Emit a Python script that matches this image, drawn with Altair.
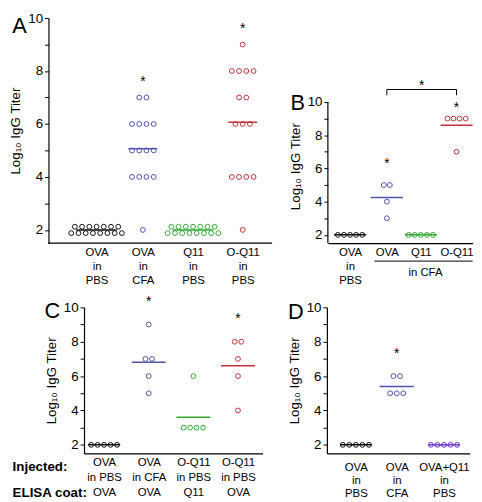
import altair as alt
import pandas as pd
import numpy as np

FONT = "Liberation Sans"
BLACK = "#111111"
BLUE = "#5151ae"
GREEN = "#35a835"
RED = "#c2303c"
PURPLE = "#6a35c8"
TITLE = "Log\u2081\u2080 IgG Titer"

# ---------------- data ----------------
A_labels = [["OVA", "in", "PBS"], ["OVA", "in", "CFA"], ["Q11", "in", "PBS"], ["O-Q11", "in", "PBS"]]
A_values = [
    [2] * 15,
    [7, 7, 6, 6, 6, 6, 5, 5, 5, 5, 4, 4, 4, 4, 2],
    [2] * 15,
    [9, 8, 8, 8, 8, 7, 7, 6, 6, 6, 4, 4, 4, 4, 2],
]
A_colors = [BLACK, BLUE, GREEN, RED]
A_stars = [None, 7.7, None, 9.7]

B_labels = [["OVA", "in", "PBS"], ["OVA"], ["Q11"], ["O-Q11"]]
B_values = [[2] * 5, [5, 5, 4, 3], [2] * 5, [9, 9, 9, 9, 7]]
B_colors = [BLACK, BLUE, GREEN, RED]
B_stars = [None, 6.45, None, 9.8]

C_labels = [["OVA", "in PBS", "OVA"], ["OVA", "in CFA", "OVA"], ["O-Q11", "in PBS", "Q11"], ["O-Q11", "in PBS", "OVA"]]
C_values = [[2] * 5, [9, 7, 7, 6, 5], [6, 3, 3, 3, 3], [8, 8, 7, 6, 4]]
C_colors = [BLACK, BLUE, GREEN, RED]
C_stars = [None, 10.5, None, 9.5]

D_labels = [["OVA", "in", "PBS"], ["OVA", "in", "CFA"], ["OVA+Q11", "in", "PBS"]]
D_values = [[2] * 5, [6, 6, 5, 5, 5], [2] * 5]
D_colors = [BLACK, BLUE, PURPLE]
D_stars = [None, 7.45, None]


def point_table(pos, values, colors, step, row_max=None, row_dy=0.12):
    rows = []
    for p, vals, c in zip(pos, values, colors):
        counts = {}
        for v in vals:
            counts[v] = counts.get(v, 0) + 1
        for v, k in counts.items():
            if row_max and k > row_max:
                lower = (k + 1) // 2
                upper = k - lower
                for n, dy in ((lower, -row_dy), (upper, row_dy)):
                    for i in range(n):
                        rows.append(dict(x=p + (i - (n - 1) / 2) * step, y=v + dy, c=c))
            else:
                for i in range(k):
                    rows.append(dict(x=p + (i - (k - 1) / 2) * step, y=v, c=c))
    return pd.DataFrame(rows)


def label_expr(xpos, labels):
    arr = "[" + ",".join("[" + ",".join("'%s'" % s for s in lab) + "]" for lab in labels) + "]"
    pos = "[" + ",".join(repr(p) for p in xpos) + "]"
    return "%s[indexof(%s, datum.value)]" % (arr, pos)


def panel(width, height, xdom, ydom, xpos, labels, values, colors, stars, step,
          halves, letter, letter_xy, lab_pad, lab_lh, row_max=None, extra=None,
          y_offset=0, x_line=None, y_line=None, title_y=None):
    xaxis = dict(values=xpos, labelExpr=label_expr(xpos, labels), ticks=False,
                 tickSize=0, labelPadding=lab_pad, labelLineHeight=lab_lh,
                 labelFontSize=11.5, labelOverlap=False, labelFlush=False,
                 labelAngle=0, title=None, grid=False, tickCount=20)
    if x_line is not None:
        xaxis["domain"] = False
    yaxis = dict(values=list(range(2, 11)), tickCount=40, format="d",
                 labelExpr="datum.value % 2 == 0 ? format(datum.value, 'd') : ''",
                 tickSize=4, labelPadding=2, labelFontSize=13.5, labelOverlap=False,
                 labelFlush=False, labelBound=False,
                 titleFontSize=13.5, titlePadding=5, title=TITLE, grid=False,
                 offset=y_offset)
    if y_line is not None:
        yaxis["domain"] = False
    if title_y is not None:
        yaxis["titleY"] = title_y
    xenc = alt.X("x:Q", scale=alt.Scale(domain=xdom, nice=False, zero=False), axis=alt.Axis(**xaxis))
    yenc = alt.Y("y:Q", scale=alt.Scale(domain=ydom, nice=False, zero=False), axis=alt.Axis(**yaxis))
    pts = point_table(xpos, values, colors, step, row_max=row_max)
    means = pd.DataFrame([dict(x=p - h, x2=p + h, y=float(np.mean(v)), c=c)
                          for p, v, c, h in zip(xpos, values, colors, halves)])
    st = pd.DataFrame([dict(x=p, y=s, t="*") for p, s in zip(xpos, stars) if s is not None])
    let = pd.DataFrame([dict(x=letter_xy[0], y=letter_xy[1], t=letter)])

    layers = [
        alt.Chart(means).mark_rule(strokeWidth=1.5).encode(
            x=xenc, x2="x2:Q", y=yenc, color=alt.Color("c:N", scale=None)),
        alt.Chart(pts).mark_point(shape="circle", filled=False, size=24, strokeWidth=1,
                                  opacity=1).encode(
            x=xenc, y=yenc, color=alt.Color("c:N", scale=None)),
        alt.Chart(st).mark_text(fontSize=14, baseline="middle", dy=3, color="black").encode(
            x=xenc, y=yenc, text="t:N"),
        alt.Chart(let).mark_text(fontSize=22, baseline="middle", align="center",
                                 color="black").encode(x=xenc, y=yenc, text="t:N"),
    ]
    if x_line is not None:
        xl = pd.DataFrame([dict(x=x_line[0], x2=x_line[1], y=ydom[0])])
        layers.append(alt.Chart(xl).mark_rule(color="black", strokeWidth=1.2).encode(
            x=xenc, x2="x2:Q", y=yenc))
    if y_line is not None:
        yl = pd.DataFrame([dict(x=xdom[0], y=y_line[0], y2=y_line[1])])
        layers.append(alt.Chart(yl).mark_rule(color="black", strokeWidth=1.2).encode(
            x=xenc, y=yenc, y2="y2:Q"))
    if extra:
        layers += extra
    return alt.layer(*layers).properties(width=width, height=height)


# ---------- panel A ----------
A_pos = [1.0, 1.96, 3.0, 4.03]
pA = panel(190.5, 228, [0.74, 4.64], [1.5, 10], A_pos, A_labels, A_values, A_colors, A_stars,
           0.15, [0.42, 0.3, 0.42, 0.3], "A", (-0.6, 9.71), 3, 14.5, row_max=8,
           y_offset=36, x_line=(0, 4.64))

# ---------- panel B ----------
B_pos = [0.62, 1.65, 2.6, 3.6]
br_y, br_y2 = 10.75, 10.4
bracket_h = pd.DataFrame([dict(x=B_pos[1], x2=B_pos[3], y=br_y)])
bracket_v = pd.DataFrame([dict(x=B_pos[1], y=br_y, y2=br_y2), dict(x=B_pos[3], y=br_y, y2=br_y2)])
bracket_star = pd.DataFrame([dict(x=(B_pos[1] + B_pos[3]) / 2, y=11.15, t="*")])
cfa_line = pd.DataFrame([dict(x=1.3, x2=4.05, y=0.42)])
cfa_text = pd.DataFrame([dict(x=2.73, y=-0.28, t="in CFA")])
B_extra = [
    alt.Chart(bracket_h).mark_rule(color="black", strokeWidth=1).encode(x="x:Q", x2="x2:Q", y="y:Q"),
    alt.Chart(bracket_v).mark_rule(color="black", strokeWidth=1).encode(x="x:Q", y="y:Q", y2="y2:Q"),
    alt.Chart(bracket_star).mark_text(fontSize=14, dy=3, color="black").encode(x="x:Q", y="y:Q", text="t:N"),
    alt.Chart(cfa_line).mark_rule(color="black", strokeWidth=1).encode(x="x:Q", x2="x2:Q", y="y:Q"),
    alt.Chart(cfa_text).mark_text(fontSize=11.5, color="black").encode(x="x:Q", y="y:Q", text="t:N"),
]
pB = panel(146.6, 228, [0, 4.05], [1.5, 15.05], B_pos, B_labels, B_values, B_colors, B_stars,
           0.17, [0.45] * 4, "B", (-0.84, 9.94), 3, 14.5, extra=B_extra,
           y_line=(1.5, 10), title_y=150)

# ---------- panel C ----------
C_pos = [0.45, 1.45, 2.45, 3.45]
row_names = pd.DataFrame([dict(x=-1.6, y=0.70, t="Injected:"), dict(x=-1.6, y=-0.78, t="ELISA coat:")])
C_extra = [
    alt.Chart(row_names).mark_text(fontSize=13.5, fontWeight="bold", align="left",
                                   color="black").encode(x="x:Q", y="y:Q", text="t:N"),
]
pC = panel(180.8, 148, [0, 4.0], [1.5, 10], C_pos, C_labels, C_values, C_colors, C_stars,
           0.145, [0.36, 0.38, 0.38, 0.38], "C", (-0.71, 9.77), 3, 15.5, extra=C_extra)

# ---------- panel D ----------
D_pos = [0.73, 1.76, 2.95]
pD = panel(144.7, 148, [0, 3.6], [1.5, 10], D_pos, D_labels, D_values, D_colors, D_stars,
           0.165, [0.4, 0.43, 0.4], "D", (-0.78, 9.71), 8, 13.5)

row1 = alt.hconcat(pA, pB, spacing=14)
row2 = alt.hconcat(pC, pD, spacing=24)
chart = alt.vconcat(row1, row2, spacing=8).properties(
    padding={"left": 0, "top": 0, "right": 0, "bottom": 0}
).configure_view(stroke=None).configure_axis(
    labelFont=FONT, titleFont=FONT, domainColor="black", tickColor="black",
    labelColor="black", titleColor="black", domainWidth=1.2, tickWidth=1,
    titleFontWeight="normal", labelOverlap=False
).configure_text(font=FONT)

chart.save("out.html", embed_options={"renderer": "svg", "actions": False})
